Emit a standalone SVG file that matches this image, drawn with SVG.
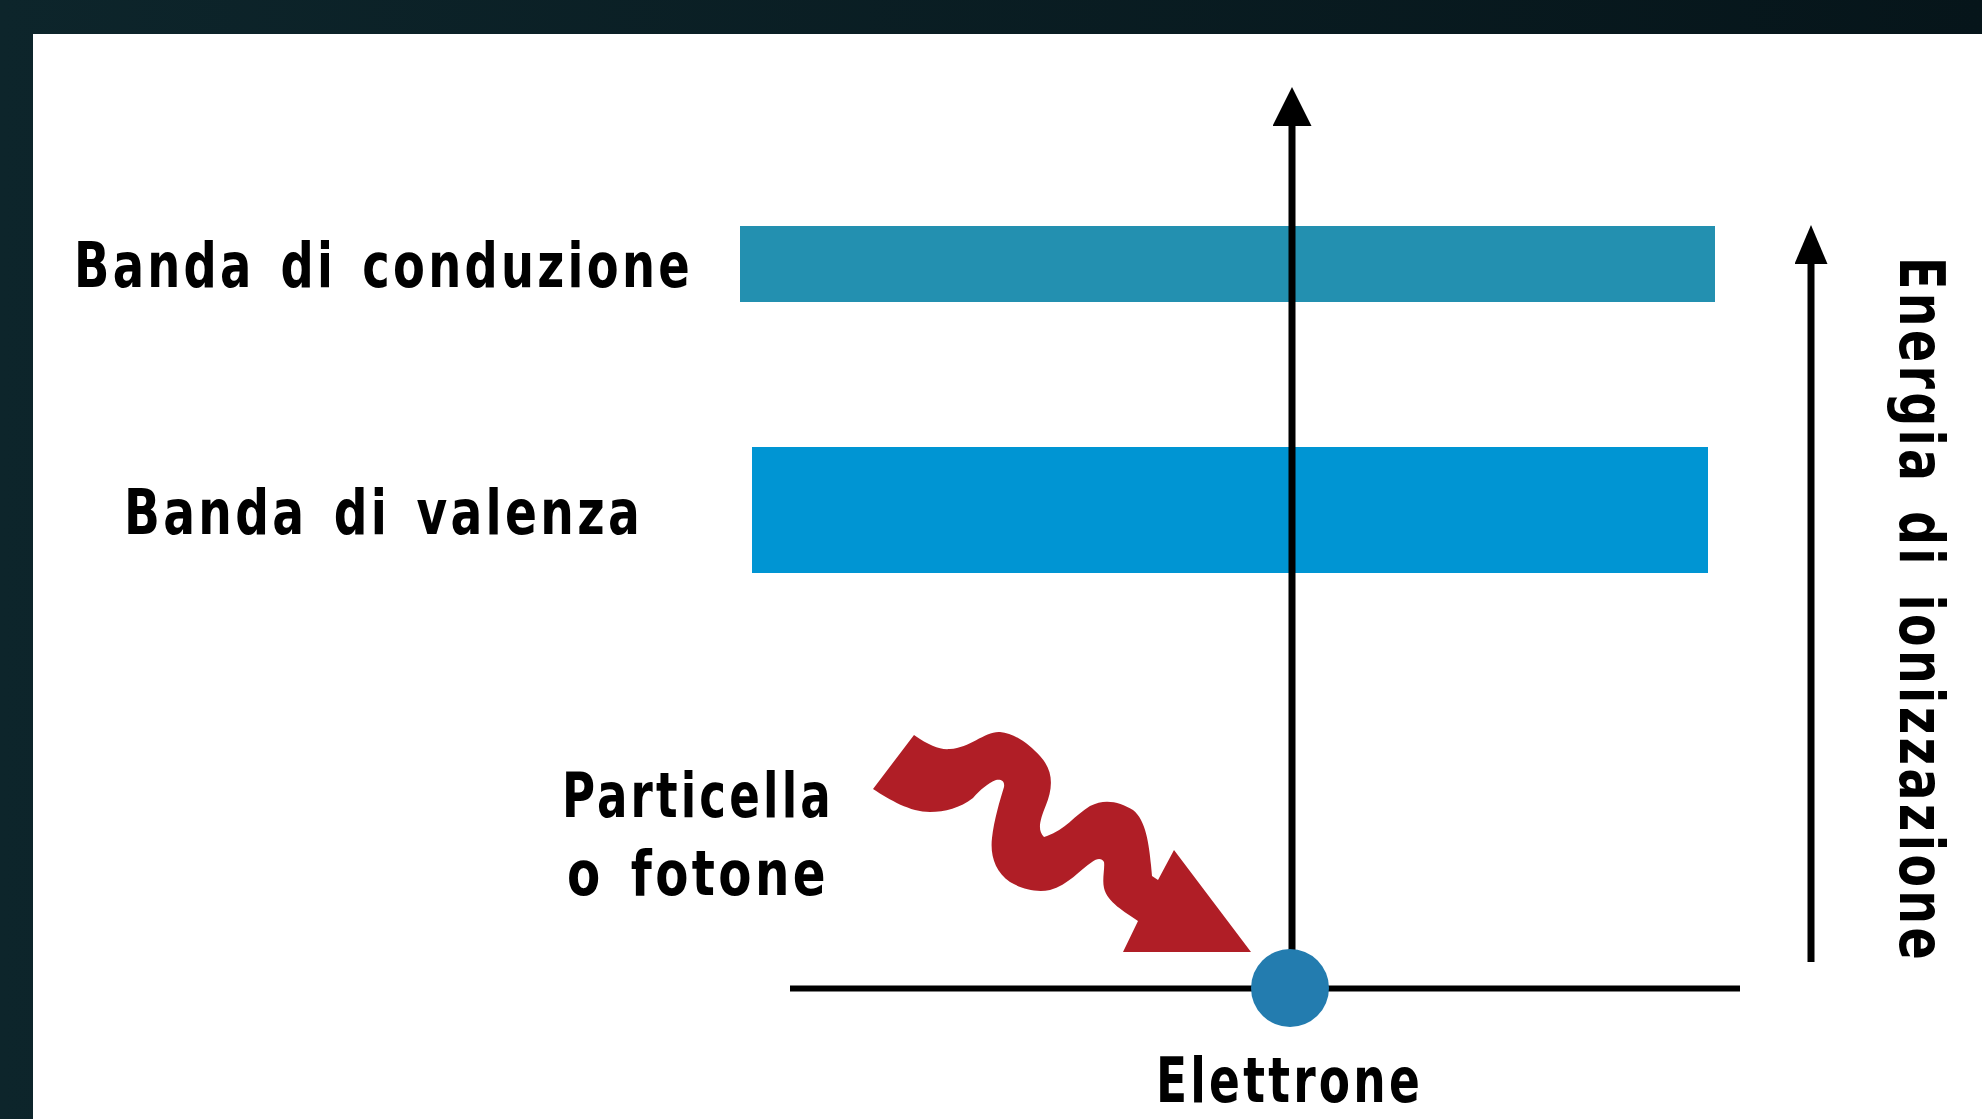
<svg xmlns="http://www.w3.org/2000/svg" width="1982" height="1119" viewBox="0 0 1982 1119">
  <defs>
    <linearGradient id="frame" x1="0" y1="0" x2="1" y2="0">
      <stop offset="0" stop-color="#0d252b"/>
      <stop offset="1" stop-color="#06151a"/>
    </linearGradient>
    <marker id="headA" viewBox="0 0 39 39" markerUnits="userSpaceOnUse" markerWidth="39" markerHeight="39" refX="0" refY="19.5" orient="auto">
      <path d="M0,0 L39,19.5 L0,39 Z" fill="#000"/>
    </marker>
    <marker id="headB" viewBox="0 0 39 33" markerUnits="userSpaceOnUse" markerWidth="39" markerHeight="33" refX="0" refY="16.5" orient="auto">
      <path d="M0,0 L39,16.5 L0,33 Z" fill="#000"/>
    </marker>
    <style>
      .lbl { font-family: "DejaVu Sans Condensed", "DejaVu Sans", sans-serif; font-stretch: condensed; font-weight: bold; font-size: 63px; fill: #000; letter-spacing: 4px; word-spacing: 8px; }
      .ln { stroke: #000; fill: none; }
    </style>
  </defs>

  <rect x="0" y="0" width="1982" height="1119" fill="url(#frame)"/>
  <rect x="33" y="34" width="1949" height="1085" fill="#ffffff"/>

  <g id="banda-conduzione">
    <rect x="740" y="226" width="975" height="76" fill="#2390b0"/>
    <text class="lbl" x="74" y="287" textLength="619" lengthAdjust="spacingAndGlyphs">Banda di conduzione</text>
  </g>

  <g id="banda-valenza">
    <rect x="752" y="447" width="956" height="126" fill="#0095d3"/>
    <text class="lbl" x="124" y="534" textLength="519" lengthAdjust="spacingAndGlyphs">Banda di valenza</text>
  </g>

  <g id="livello">
    <line class="ln" x1="790" y1="988.5" x2="1740" y2="988.5" stroke-width="6"/>
  </g>

  <g id="connectors">
    <line class="ln" x1="1292" y1="950" x2="1292" y2="126" stroke-width="7" marker-end="url(#headA)"/>
    <line class="ln" x1="1811" y1="962" x2="1811" y2="264" stroke-width="7" marker-end="url(#headB)"/>
  </g>

  <g id="particella">
    <path fill="#b01e26" d="M914,735 C930,746 940,750 950,749 C970,748 985,731 1000,732 C1015,733 1030,745 1040,756 C1055,772 1052,790 1046,805 C1040,820 1037,830 1044,837 L1047,836 C1065,830 1075,815 1090,806 C1105,798 1120,802 1133,810 C1146,820 1149,845 1151,865 L1152,876 L1158,880 L1174,850 L1251,952 L1123,952 L1138,921 C1125,912 1107,902 1104,888 C1102,880 1105,868 1104,862 C1102,858 1097,858 1092,862 C1080,870 1068,885 1050,890 C1035,893 1020,888 1010,882 C995,872 990,855 992,838 C994,820 1000,800 1004,787 C1005,781 1001,779 996,780 C988,783 980,790 973,798 C960,808 945,812 930,812 C910,812 890,800 873,789 Z"/>
    <text class="lbl" x="562" y="817" textLength="272" lengthAdjust="spacingAndGlyphs">Particella</text>
    <text class="lbl" x="567" y="895" textLength="262" lengthAdjust="spacingAndGlyphs">o fotone</text>
  </g>

  <g id="elettrone">
    <circle cx="1290" cy="988" r="39" fill="#237caf"/>
    <text class="lbl" x="1156" y="1102" textLength="267" lengthAdjust="spacingAndGlyphs">Elettrone</text>
  </g>

  <g id="energia">
    <text class="lbl" transform="translate(1900,257) rotate(90)" x="0" y="0" textLength="706" lengthAdjust="spacingAndGlyphs">Energia di ionizzazione</text>
  </g>
</svg>
